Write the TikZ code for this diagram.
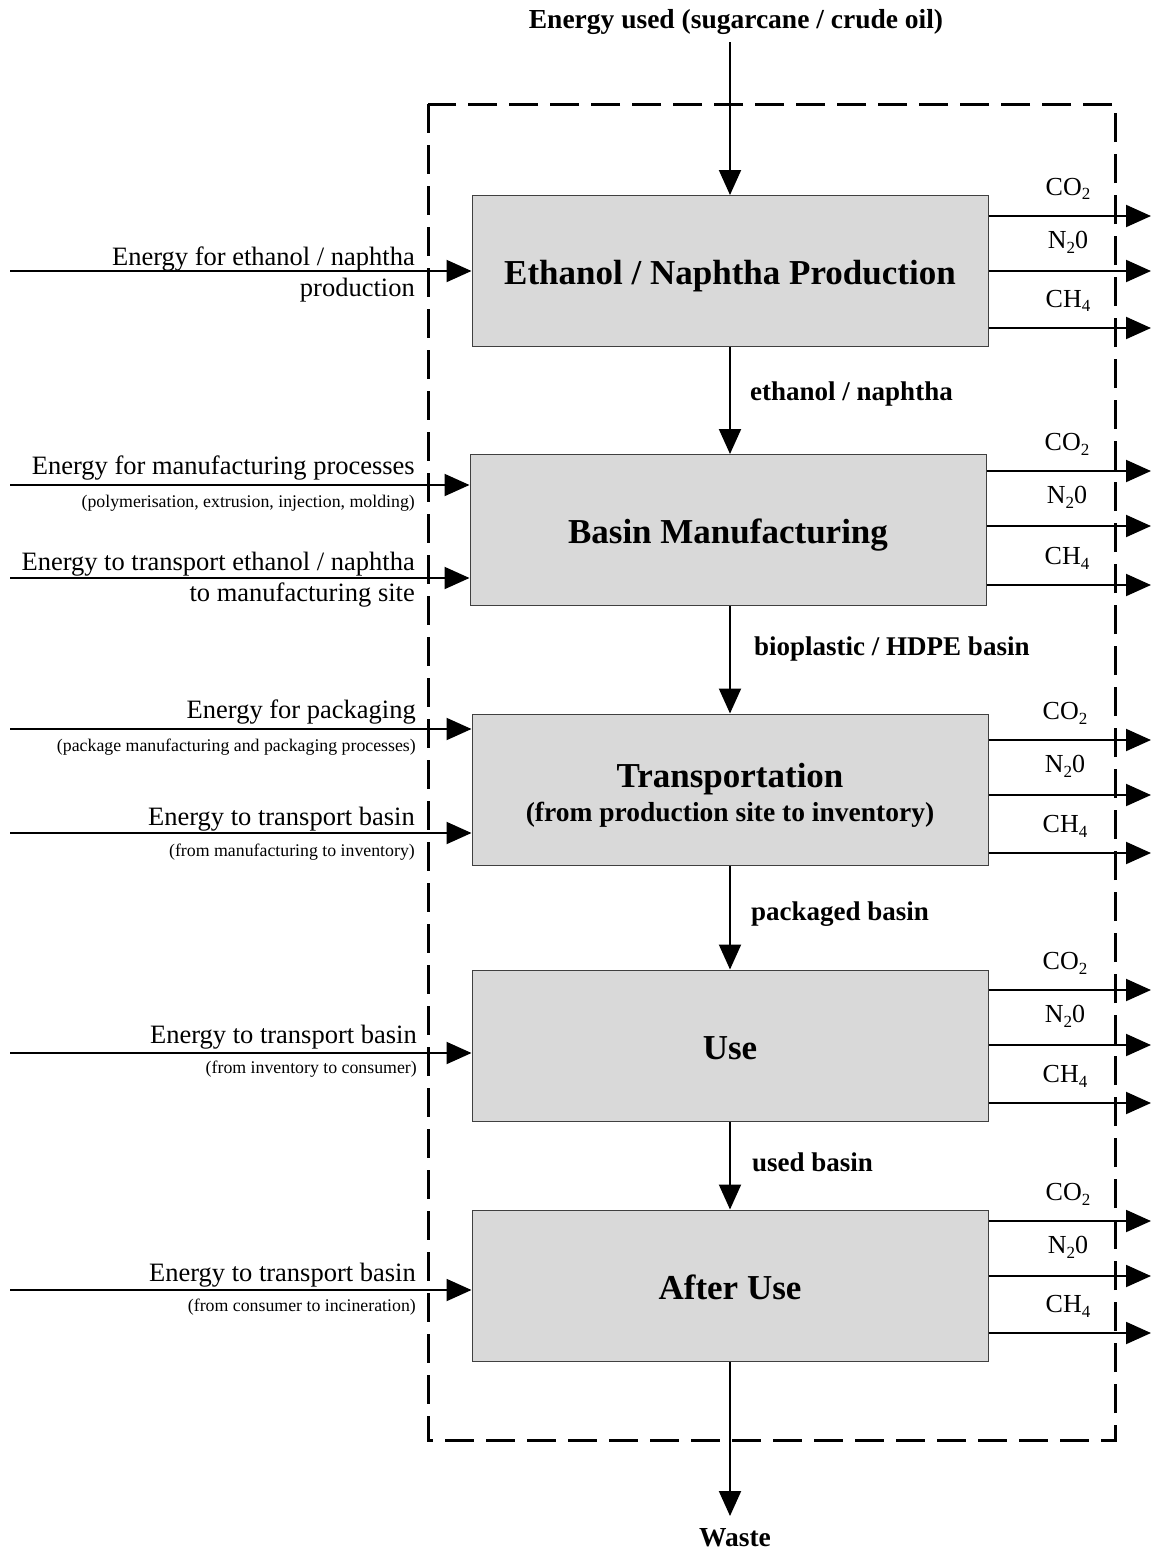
\documentclass[tikz,border=0pt]{standalone}
\usepackage{fontspec}
\setmainfont{Liberation Serif}
\usetikzlibrary{arrows.meta}
\newcommand{\sbs}[1]{\raisebox{-0.4ex}{\fontsize{17}{20}\selectfont #1}}
\begin{document}
\begin{tikzpicture}[x=1pt,y=-1pt,
  stage/.style={draw=black!75, line width=1pt, fill=black!15, minimum width=516pt, minimum height=151pt, inner sep=0pt},
  title/.style={font=\fontsize{35}{40}\selectfont\bfseries, inner sep=0pt, anchor=mid},
  arr/.style={line width=2pt, -{Triangle[length=25pt,width=22pt]}},
  big/.style={font=\fontsize{26.5}{30}\selectfont, inner sep=0pt},
  small/.style={font=\fontsize{17.8}{20}\selectfont, inner sep=0pt},
  flow/.style={font=\fontsize{27}{30}\selectfont\bfseries, inner sep=0pt, anchor=mid west},
  gas/.style={font=\fontsize{26}{30}\selectfont, inner sep=0pt},
  bound/.style={line width=3pt, dash pattern=on 29pt off 12pt}]
\useasboundingbox (0,0) rectangle (1151,1550);
% boundary
\draw[bound] (428,104) rectangle (1115,1440);
% stages
\node[stage] (b1) at (730,271) {};
\node[stage] (b2) at (728,530) {};
\node[stage] (b3) at (730,789.5) {};
\node[stage] (b4) at (730,1045.5) {};
\node[stage] (b5) at (730,1285.5) {};
\node[title] (l1) at (730,282) {Ethanol / Naphtha Production};
\node[title] (l2) at (728,541) {Basin Manufacturing};
\node[title] (l3) at (730,785) {Transportation};
\node[title, font=\fontsize{27.5}{30}\selectfont\bfseries] (l3b) at (730,819) {(from production site to inventory)};
\node[title] (l4) at (730,1057) {Use};
\node[title] (l5) at (730,1297) {After Use};
% top and bottom
\node[font=\fontsize{27.5}{30}\selectfont\bfseries, inner sep=0pt, anchor=mid] (top) at (736,26) {Energy used (sugarcane / crude oil)};
\coordinate (topS) at (730,42);
\draw[arr] (topS) -- (b1.north -| topS);
\node[font=\fontsize{27.5}{30}\selectfont\bfseries, inner sep=0pt, anchor=mid] (waste) at (735,1544) {Waste};
\coordinate (wasteE) at (730,1516);
\draw[arr] (b5.south -| wasteE) -- (wasteE);
% flows between stages
\draw[arr] (b1.south -| 730,0) -- (b2.north -| 730,0);
\node[flow] (f1) at (750,398) {ethanol / naphtha};
\draw[arr] (b2.south -| 730,0) -- (b3.north -| 730,0);
\node[flow] (f2) at (754,653) {bioplastic / HDPE basin};
\draw[arr] (b3.south -| 730,0) -- (b4.north -| 730,0);
\node[flow] (f3) at (751,918) {packaged basin};
\draw[arr] (b4.south -| 730,0) -- (b5.north -| 730,0);
\node[flow] (f4) at (752,1169) {used basin};
% emissions
\foreach \b/\ya/\yb/\yc/\lx in {b1/216/271/328/1068, b2/471/526/585/1067, b3/740/795/853/1065, b4/990/1045/1103/1065, b5/1221/1276/1333/1068}{
  \draw[arr] (\b.east |- 0,\ya) -- (1151,\ya);
  \draw[arr] (\b.east |- 0,\yb) -- (1151,\yb);
  \draw[arr] (\b.east |- 0,\yc) -- (1151,\yc);
  \node[gas] at (\lx,\ya-27) {CO\sbs{2}};
  \node[gas] at (\lx,\yb-29) {N\sbs{2}0};
  \node[gas] at (\lx,\yc-27) {CH\sbs{4}};
}
% energy inputs
\coordinate (e1) at (10,271);
\draw[arr] (e1) -- (b1.west |- e1);
\node[big, anchor=mid east] (t1a) at (415,263) {Energy for ethanol / naphtha};
\node[big, anchor=mid east] (t1b) at (415,294) {production};
\coordinate (e2) at (10,485);
\draw[arr] (e2) -- (b2.west |- e2);
\node[big, anchor=mid east] (t2a) at (415,472) {Energy for manufacturing processes};
\node[small, anchor=mid east] (t2b) at (415,505) {(polymerisation, extrusion, injection, molding)};
\coordinate (e3) at (10,578);
\draw[arr] (e3) -- (b2.west |- e3);
\node[big, anchor=mid east] (t3a) at (415,568) {Energy to transport ethanol / naphtha};
\node[big, anchor=mid east] (t3b) at (415,599) {to manufacturing site};
\coordinate (e4) at (10,729);
\draw[arr] (e4) -- (b3.west |- e4);
\node[big, anchor=mid east] (t4a) at (416,716) {Energy for packaging};
\node[small, anchor=mid east] (t4b) at (416,749) {(package manufacturing and packaging processes)};
\coordinate (e5) at (10,833);
\draw[arr] (e5) -- (b3.west |- e5);
\node[big, anchor=mid east] (t5a) at (415,823) {Energy to transport basin};
\node[small, anchor=mid east] (t5b) at (415,854) {(from manufacturing to inventory)};
\coordinate (e6) at (10,1053);
\draw[arr] (e6) -- (b4.west |- e6);
\node[big, anchor=mid east] (t6a) at (417,1041) {Energy to transport basin};
\node[small, anchor=mid east] (t6b) at (417,1071) {(from inventory to consumer)};
\coordinate (e7) at (10,1290);
\draw[arr] (e7) -- (b5.west |- e7);
\node[big, anchor=mid east] (t7a) at (416,1279) {Energy to transport basin};
\node[small, anchor=mid east] (t7b) at (416,1309) {(from consumer to incineration)};
\end{tikzpicture}
\end{document}
